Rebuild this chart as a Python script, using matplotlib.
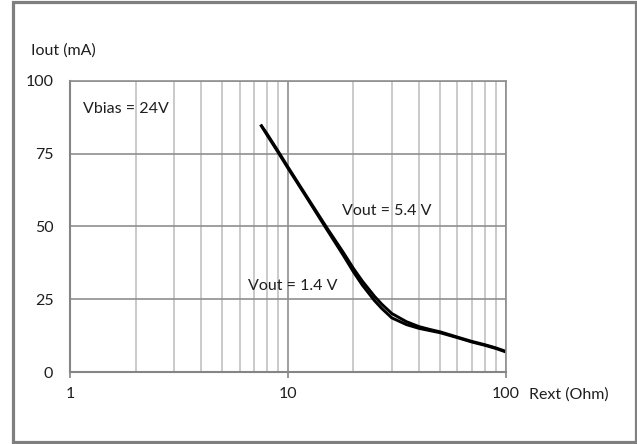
import matplotlib
matplotlib.use('Agg')
import matplotlib.pyplot as plt
import matplotlib.patches as patches
from matplotlib.ticker import FixedLocator, NullFormatter

W, H = 637, 444

# data
rext = [7.5, 8, 9, 10, 12, 15, 18, 20, 22, 25, 27, 30, 35, 40, 45, 50, 60, 70, 80, 90, 100]
iout_14 = [85, 81.6, 75.6, 70.1, 60.8, 49.3, 40.0, 34.4, 29.8, 24.5, 21.8, 18.6, 16.3, 15.0, 14.2, 13.5, 11.8, 10.3, 9.2, 8.1, 6.9]
iout_54 = [85, 82.0, 76.0, 70.5, 61.2, 49.9, 41.0, 35.6, 31.2, 26.0, 23.3, 20.1, 17.3, 15.6, 14.6, 13.8, 12.0, 10.5, 9.4, 8.3, 7.1]
yticks = [0, 25, 50, 75, 100]
xticks = [1, 10, 100]
xticklabels = ['1', '10', '100']

plt.rcParams['font.family'] = ['Lato', 'DejaVu Sans']
txt = '#1e1e1e'
fs = 11.5

fig = plt.figure(figsize=(W / 100, H / 100), dpi=100)
ax = fig.add_axes([70 / W, 1 - 372 / H, (505.7 - 70) / W, (372 - 81) / H])

ax.plot(rext, iout_14, color='black', lw=2.1, solid_capstyle='butt')
ax.plot(rext, iout_54, color='black', lw=2.1, solid_capstyle='butt')

ax.set_xscale('log')
ax.set_xlim(1, 100)
ax.set_ylim(0, 100)
ax.set_xticks(xticks, labels=xticklabels)
ax.xaxis.set_minor_locator(FixedLocator([m * d for d in (1, 10) for m in range(2, 10)]))
ax.xaxis.set_minor_formatter(NullFormatter())
ax.set_yticks(yticks)

ax.grid(True, which='major', axis='y', color='#8f8f8f', lw=1.2)
ax.grid(True, which='major', axis='x', color='#8f8f8f', lw=1.2)
ax.grid(True, which='minor', axis='x', color='#c6c6c6', lw=1.3)
ax.set_axisbelow(True)

for s in ax.spines.values():
    s.set_color('#8f8f8f')
    s.set_linewidth(1.2)
ax.spines['left'].set_color('#858585')
ax.spines['bottom'].set_color('#858585')
ax.spines['left'].set_linewidth(1.5)
ax.spines['bottom'].set_linewidth(1.5)

ax.tick_params(axis='x', which='major', length=4, width=1.2, color='#858585',
               pad=7, labelsize=fs, labelcolor=txt)
ax.tick_params(axis='x', which='minor', length=0)
ax.tick_params(axis='y', length=0, pad=12, labelsize=fs, labelcolor=txt)

ax.text(1.15, 90.4, 'Vbias = 24V', fontsize=fs, color=txt, ha='left', va='center')
ax.text(17.8, 55.3, 'Vout = 5.4 V', fontsize=fs, color=txt, ha='left', va='center')
ax.text(6.59, 29.7, 'Vout = 1.4 V', fontsize=fs, color=txt, ha='left', va='center')

fig.text(31 / W, 1 - 51 / H, 'Iout (mA)', fontsize=fs, color=txt, ha='left', va='center')
fig.text(528.7 / W, 1 - 395 / H, 'Rext (Ohm)', fontsize=fs, color=txt, ha='left', va='center')

# outer frame
fig.patches.append(patches.Rectangle((13 / W, 1 - 441.5 / H), (635.5 - 13) / W, (441.5 - 2.5) / H,
                                     transform=fig.transFigure, fill=False,
                                     edgecolor='#7f7f7f', lw=2.3))

fig.savefig('out.png', dpi=100)
